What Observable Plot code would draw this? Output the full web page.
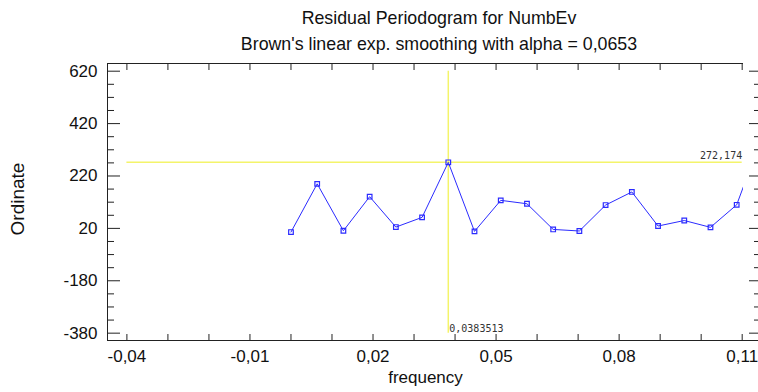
<!DOCTYPE html>
<html>
<head>
<meta charset="utf-8">
<script src="https://cdn.jsdelivr.net/npm/d3@7"></script>
<script src="https://cdn.jsdelivr.net/npm/@observablehq/plot@0.6"></script>
<style>
  html, body { margin: 0; padding: 0; background: #fff; }
  body { width: 758px; height: 392px; overflow: hidden; font-family: "Liberation Sans", Arial, sans-serif; color: #111; }
  .title, .subtitle { box-sizing: border-box; width: 758px; padding-left: 120px; text-align: center; font-size: 17.8px; white-space: nowrap; }
  .title { height: 30px; line-height: 37px; }
  .subtitle { height: 26px; line-height: 29px; }
  #chart svg { display: block; overflow: visible; }
</style>
</head>
<body>
<div class="title">Residual Periodogram for NumbEv</div>
<div class="subtitle">Brown's linear exp. smoothing with alpha = 0,0653</div>
<div id="chart"></div>
<script>
// Periodogram ordinates of the residuals, by frequency
const frequency = [0, 0.00639, 0.01278, 0.01918, 0.02557, 0.03196, 0.0383513, 0.04474, 0.05114, 0.05753,
                   0.06392, 0.07031, 0.0767, 0.0831, 0.08949, 0.09588, 0.10227, 0.10866, 0.11505];
const ordinate  = [6, 190, 11, 141, 25, 62, 272.174, 8.5, 127, 114,
                   16, 10, 109, 159, 29, 50, 24, 110, 380];

// Crosshair at the largest ordinate
const peakFrequency = 0.0383513;
const peakOrdinate = 272.174;

// Axis ticks
const xTicks = [-0.04, -0.01, 0.02, 0.05, 0.08, 0.11];
const xMinorTicks = [-0.04, -0.03, -0.02, -0.01, 0, 0.01, 0.02, 0.03, 0.04, 0.05, 0.06, 0.07, 0.08, 0.09, 0.1, 0.11];
const yTicks = [620, 420, 220, 20, -180, -380];
const yMinorTicks = [570, 520, 470, 370, 320, 270, 170, 120, 70, -30, -80, -130, -230, -280, -330];

const xDomain = [-0.04473, 0.11032];
const yDomain = [-408, 649.4];

// decimal comma and a plain hyphen for negatives
const comma = (s) => s.replace(".", ",").replace("\u2212", "-");
const fmtX = (d) => comma(d3.format(".2f")(d));
const fmtY = (d) => comma(d3.format("d")(d));

const points = frequency.map((f, i) => ({frequency: f, ordinate: ordinate[i]}));

const axisColor = "#222";
const blue = "#2b2bff";
const yellow = "#f4f46a";
const labelFont = "Liberation Sans, Arial, sans-serif";
const monoFont = "DejaVu Sans Mono, monospace";

const chart = Plot.plot({
  width: 758,
  height: 336,
  marginLeft: 107,
  marginRight: 15,
  marginTop: 7,
  marginBottom: 52,
  style: {fontFamily: labelFont, fontSize: "17px", color: axisColor, background: "transparent", overflow: "visible"},
  x: {domain: xDomain},
  y: {domain: yDomain},
  marks: [
    // crosshair
    Plot.ruleX([peakFrequency], {y1: d3.min(yTicks), y2: d3.max(yTicks), stroke: yellow, strokeWidth: 1.5}),
    Plot.ruleY([peakOrdinate], {x1: d3.min(xTicks), x2: d3.max(xTicks), stroke: yellow, strokeWidth: 1.5}),
    Plot.text([peakOrdinate], {x: d3.max(xTicks), y: (d) => d, text: (d) => comma(String(d)), textAnchor: "end", dy: -7,
      fontFamily: monoFont, fontSize: 10, fill: "#333", style: "letter-spacing:1.6px"}),
    Plot.text([peakFrequency], {x: (d) => d, y: d3.min(yTicks), text: (d) => comma(String(d)), textAnchor: "start", dx: 1, dy: -4,
      fontFamily: monoFont, fontSize: 10, fill: "#333", style: "letter-spacing:1.8px"}),

    // frame lines (left, top, bottom)
    Plot.ruleX([xDomain[0]], {stroke: axisColor}),
    Plot.ruleY([yDomain[1]], {stroke: axisColor}),
    Plot.ruleY([yDomain[0]], {stroke: axisColor}),
    Plot.ruleY([yDomain[0]], {stroke: axisColor, dx: 15}),

    // inward ticks
    Plot.axisY(yTicks, {anchor: "left", tickSize: 13, dx: 13, fill: "none", stroke: axisColor, label: null}),
    Plot.axisY(yMinorTicks, {anchor: "left", tickSize: 7, dx: 7, fill: "none", stroke: axisColor, label: null}),
    Plot.axisY(yTicks, {anchor: "right", tickSize: 10, dx: 5, fill: "none", stroke: axisColor, label: null}),
    Plot.axisY(yMinorTicks, {anchor: "right", tickSize: 5, dx: 10, fill: "none", stroke: axisColor, label: null}),
    Plot.axisX(xMinorTicks, {anchor: "bottom", tickSize: 6, dy: -6, fill: "none", stroke: axisColor, label: null}),
    Plot.axisX(xMinorTicks, {anchor: "top", tickSize: 6, dy: 6, fill: "none", stroke: axisColor, label: null}),

    // tick labels
    Plot.axisY(yTicks, {anchor: "left", tickSize: 0, tickPadding: 10, tickFormat: fmtY, fontSize: 17, fill: "#111", label: null}),
    Plot.axisX(xTicks, {anchor: "bottom", tickSize: 0, tickPadding: 9, tickFormat: fmtX, fontSize: 17, fill: "#111", label: null}),

    // axis titles
    Plot.text(["Ordinate"], {frameAnchor: "left", textAnchor: "middle", rotate: -90, dx: -90, dy: -3, fontSize: 19, fill: "#111"}),
    Plot.text(["frequency"], {frameAnchor: "bottom", dy: 42, fontSize: 17, fill: "#111"}),

    // periodogram
    Plot.line(points, {x: "frequency", y: "ordinate", stroke: blue, strokeWidth: 1, clip: true}),
    Plot.dot(points, {x: "frequency", y: "ordinate", symbol: "square", r: 2.6, stroke: blue, strokeWidth: 1.2, fill: "none", clip: true})
  ]
});

document.getElementById("chart").append(chart);
</script>
</body>
</html>
